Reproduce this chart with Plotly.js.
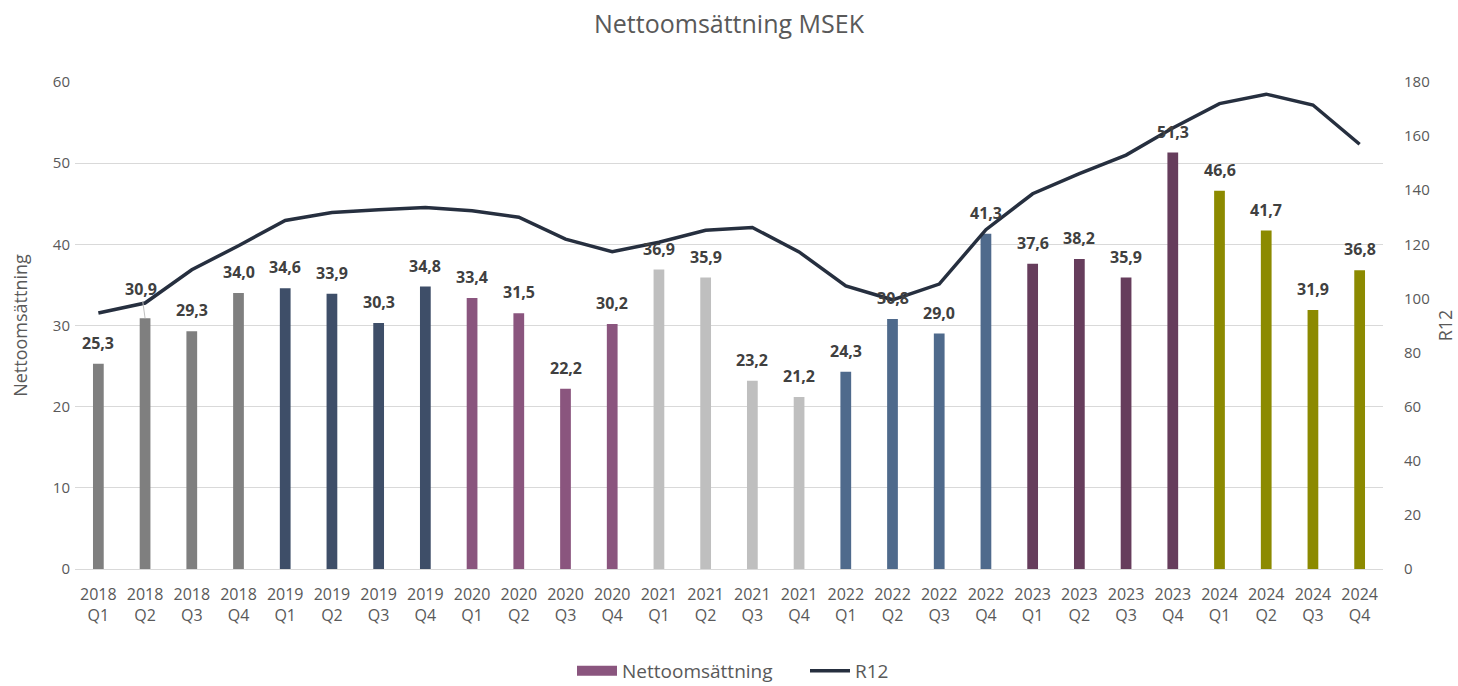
<!DOCTYPE html>
<html>
<head>
<meta charset="utf-8">
<script src="https://cdn.plot.ly/plotly-3.0.1.min.js"></script>
<style>html,body{margin:0;padding:0;background:#fff;}#chart{width:1458px;height:686px;}</style>
</head>
<body>
<div id="chart"></div>
<script>
// ---- data ----
const years = ["2018","2018","2018","2018","2019","2019","2019","2019","2020","2020","2020","2020",
  "2021","2021","2021","2021","2022","2022","2022","2022","2023","2023","2023","2023","2024","2024","2024","2024"];
const quarters = ["Q1","Q2","Q3","Q4","Q1","Q2","Q3","Q4","Q1","Q2","Q3","Q4",
  "Q1","Q2","Q3","Q4","Q1","Q2","Q3","Q4","Q1","Q2","Q3","Q4","Q1","Q2","Q3","Q4"];
const netSales = [25.3,30.9,29.3,34.0,34.6,33.9,30.3,34.8,33.4,31.5,22.2,30.2,
  36.9,35.9,23.2,21.2,24.3,30.8,29.0,41.3,37.6,38.2,35.9,51.3,46.6,41.7,31.9,36.8];
const r12 = [94.6,98.3,110.6,119.5,128.8,131.8,132.8,133.6,132.4,130.0,121.9,117.3,
  120.8,125.2,126.2,117.2,104.6,99.5,105.3,125.4,138.7,146.1,153.0,163.0,172.0,175.5,171.5,157.0];

// ---- style ----
const yearColors = {"2018":"#7f7f7f","2019":"#3e4e68","2020":"#8a557e","2021":"#bfbfbf",
  "2022":"#4f6a8c","2023":"#663d5c","2024":"#8c8a00"};
const fontFam = "Open Sans, sans-serif";

const cats = years.map((y,i)=> y + "<br>" + quarters[i]);
const barColors = years.map(y => yearColors[y]);

const traces = [
  {type:"bar", x:cats, y:netSales, marker:{color:barColors}, width:0.23,
   showlegend:false, hoverinfo:"x+y"},
  {type:"scatter", mode:"lines", x:[cats[0]], y:[null], name:"Nettoomsättning",
   line:{color:"#8a557e", width:14}, showlegend:true},
  {type:"scatter", mode:"lines", x:cats, y:r12, yaxis:"y2", name:"R12",
   line:{color:"#262f3f", width:3.5}}
];

const annotations = netSales.map((v,i)=>{
  const a = {
    x:cats[i], y:v, xref:"x", yref:"y", text:"<b>"+v.toFixed(1).replace(".",",")+"</b>",
    font:{family:fontFam, size:16, color:"#404040"}
  };
  if (i === 1) {
    Object.assign(a, {showarrow:true, arrowhead:0, arrowwidth:1, arrowcolor:"#bfbfbf",
      ax:-4, ay:-29, standoff:0});
  } else {
    Object.assign(a, {showarrow:false, yanchor:"bottom", yshift:8});
  }
  return a;
});

const layout = {
  width:1458, height:686,
  margin:{l:75, r:75, t:82, b:117},
  paper_bgcolor:"#fff", plot_bgcolor:"#fff",
  font:{family:fontFam, color:"#595959"},
  title:{text:"Nettoomsättning MSEK", x:0.5, xanchor:"center", y:0.965, yanchor:"middle",
    font:{family:fontFam, size:25, color:"#595959"}},
  xaxis:{type:"category", tickfont:{size:16, color:"#595959"}, showgrid:false,
    showline:false, ticks:"", zeroline:false, automargin:false, ticklabelstandoff:14},
  yaxis:{range:[0,60], dtick:10, gridcolor:"#d9d9d9", gridwidth:1, zeroline:true,
    zerolinecolor:"#d9d9d9", tickfont:{size:15, color:"#595959"}, ticks:"",
    ticklabelstandoff:4,
    title:{text:"Nettoomsättning", font:{size:18, color:"#595959"}, standoff:20},
    automargin:false},
  yaxis2:{range:[0,180], dtick:20, overlaying:"y", side:"right", showgrid:false, zeroline:false,
    tickfont:{size:15, color:"#595959"}, ticks:"", ticklabelstandoff:20,
    title:{text:"R12", font:{size:18, color:"#595959"}, standoff:10}, automargin:false},
  legend:{orientation:"h", xref:"container", x:572/1458, xanchor:"left",
    yref:"container", y:0.022, yanchor:"middle",
    entrywidth:178, entrywidthmode:"pixels",
    font:{size:19, color:"#595959"}, itemwidth:40, tracegroupgap:0},
  annotations:annotations
};

Plotly.newPlot("chart", traces, layout, {displayModeBar:false, staticPlot:true});
</script>
</body>
</html>
